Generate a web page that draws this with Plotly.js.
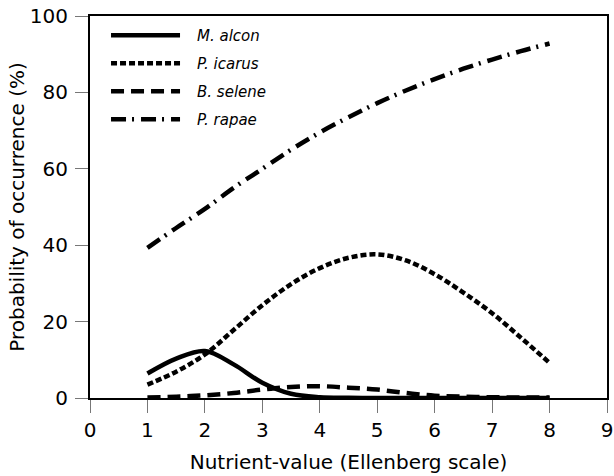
<!DOCTYPE html>
<html>
<head>
<meta charset="utf-8">
<script src="https://cdn.plot.ly/plotly-3.0.1.min.js"></script>
<style>html,body{margin:0;padding:0;background:#fff;}#chart{width:614px;height:476px;}</style>
</head>
<body>
<div id="chart"></div>
<script>
const xValues = [1, 1.5, 2, 2.5, 3, 3.5, 4, 4.5, 5, 5.5, 6, 6.5, 7, 7.5, 8];
const mAlcon = [6.4, 10.3, 12.3, 8.8, 4.0, 1.1, 0.2, 0.05, 0, 0, 0, 0, 0, 0, 0];
const pIcarus = [3.5, 6.9, 11.4, 17.8, 24.3, 29.8, 34.0, 36.7, 37.6, 36.0, 32.4, 27.6, 22.2, 15.8, 9.2];
const bSelene = [0.1, 0.35, 0.7, 1.3, 2.2, 2.9, 3.1, 2.7, 2.2, 1.3, 0.6, 0.35, 0.2, 0.12, 0.1];
const pRapae = [39.3, 44.5, 49.5, 55, 60, 65, 69.5, 73.5, 77.2, 80.5, 83.5, 86.2, 88.6, 90.8, 92.8];
const seriesNames = ["M. alcon", "P. icarus", "B. selene", "P. rapae"];
const xTicks = [0, 1, 2, 3, 4, 5, 6, 7, 8, 9];
const yTicks = [0, 20, 40, 60, 80, 100];

const dashes = ["solid", "6px,3px", "13px,7px", "15px,6px,2px,7px"];
const series = [mAlcon, pIcarus, bSelene, pRapae];
const traces = series.map((ys, i) => ({
  x: xValues, y: ys, name: "\u2002\u2009\u200A" + seriesNames[i], type: "scatter", mode: "lines",
  legendgroup: "g" + i,
  line: {color: "#000", width: 4.5, dash: dashes[i], shape: "spline", smoothing: 1}
}));

const font = {family: "DejaVu Sans, Verdana, sans-serif", size: 20, color: "#000"};
const layout = {
  width: 614, height: 476,
  margin: {l: 90, r: 7, t: 16, b: 78},
  paper_bgcolor: "#fff", plot_bgcolor: "#fff",
  font: font,
  showlegend: true,
  legend: {x: 0.031, y: 0.992, xanchor: "left", yanchor: "top", bgcolor: "rgba(0,0,0,0)",
    font: {family: "DejaVu Sans, sans-serif", size: 15, style: "italic", color: "#000"},
    itemwidth: 69, tracegroupgap: 5.5},
  xaxis: {range: [0, 9], tickvals: xTicks, ticktext: xTicks.map(String), ticks: "outside", ticklen: 13,
    tickwidth: 1, tickcolor: "#777", showline: true, linecolor: "#000", linewidth: 2, mirror: true,
    showgrid: false, zeroline: false,
    title: {text: "Nutrient-value (Ellenberg scale)", font: font, standoff: 14}},
  yaxis: {range: [0, 100], tickvals: yTicks, ticktext: yTicks.map(String), ticks: "outside", ticklen: 13,
    tickwidth: 1, tickcolor: "#777", showline: true, linecolor: "#000", linewidth: 2, mirror: true,
    showgrid: false, zeroline: false, ticklabelstandoff: 3,
    title: {text: "Probability of occurrence (%)", font: font, standoff: 0}}
};
Plotly.newPlot("chart", traces, layout, {displayModeBar: false, staticPlot: true});
</script>
</body>
</html>
